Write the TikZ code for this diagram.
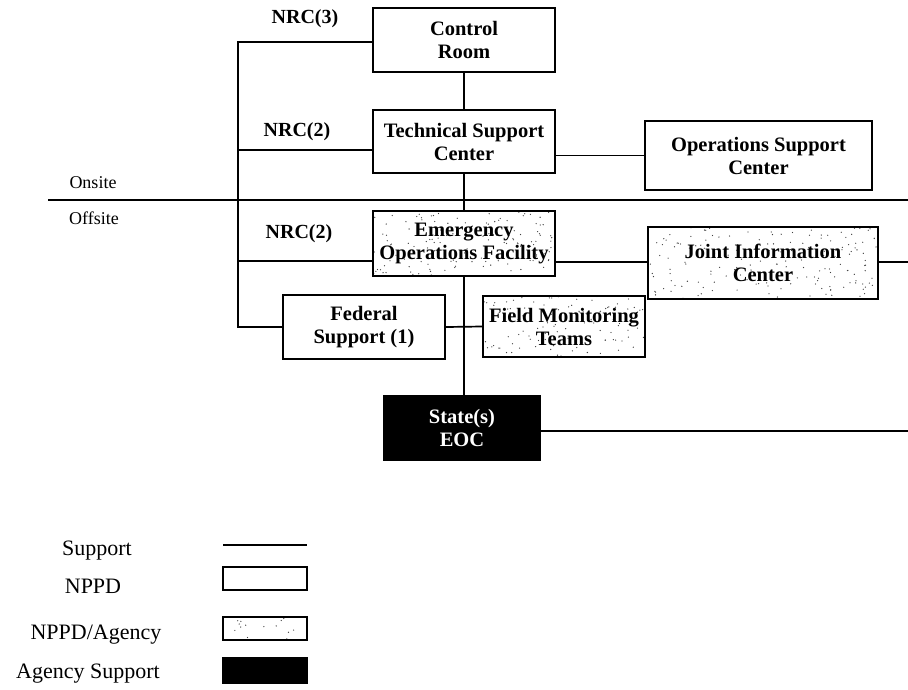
\documentclass[tikz,border=0pt]{standalone}
\usepackage{fontspec}
\setmainfont{Liberation Serif}
\usetikzlibrary{calc}
\tikzset{
  stipple/.style={path picture={
    \foreach \i in {1,...,#1}{
      \pgfmathsetmacro\rx{rnd}\pgfmathsetmacro\ry{rnd}
      \fill[black!75] let \p1=(path picture bounding box.south west), \p2=(path picture bounding box.north east) in ({\x1+\rx*(\x2-\x1)},{\y1+\ry*(\y2-\y1)}) circle[radius=0.65pt];
    }}},
  stipple/.default=120,
  box/.style={draw, line width=1.9pt, align=center, inner sep=0pt, fill=white,
    font=\fontsize{20.5}{23}\selectfont\bfseries},
  conn/.style={line width=1.7pt},
  lbl/.style={font=\fontsize{20}{23}\selectfont\bfseries, inner sep=0pt},
  zone/.style={font=\fontsize{18}{21}\selectfont, inner sep=0pt, anchor=base},
  leg/.style={font=\fontsize{22}{25}\selectfont, inner sep=0pt, anchor=base},
  swatch/.style={draw, line width=1.9pt, fill=white, minimum width=84pt, minimum height=23pt, inner sep=0pt}
}
\begin{document}
\begin{tikzpicture}[x=1pt,y=-1pt]
\pgfmathsetseed{4711}
\useasboundingbox (0,0) rectangle (908,689);

% boxes
\node[box, minimum width=182pt, minimum height=64pt] (cr) at (464,40) {Control\\Room};
\node[box, minimum width=182pt, minimum height=63pt] (tsc) at (464,141.5) {Technical Support\\Center};
\node[box, minimum width=227pt, minimum height=69pt] (osc) at (758.5,155.5) {Operations Support\\Center};
\node[box, stipple=140, minimum width=182pt, minimum height=65pt] (eof) at (464,243.5) {Emergency\\Operations Facility};
\node[box, stipple=170, minimum width=230pt, minimum height=72pt] (jic) at (763,263) {Joint Information\\Center};
\node[box, minimum width=162pt, minimum height=64pt] (fed) at (364,327) {Federal\\Support (1)};
\node[box, stipple=110, minimum width=162pt, minimum height=61pt] (fmt) at (564,326.5) {Field Monitoring\\Teams};
\node[box, fill=black, text=white, minimum width=157pt, minimum height=65pt] (state) at (462,428) {State(s)\\EOC};

% labels
\node[lbl] (nrc3) at (305,19) {NRC(3)};
\node[lbl] (nrc2a) at (297,132) {NRC(2)};
\node[lbl] (nrc2b) at (299,234) {NRC(2)};
\node[zone] (onsite) at (93,188) {Onsite};
\node[zone] (offsite) at (94,224) {Offsite};

% coordinates
\coordinate (on1) at (48,200);
\coordinate (on2) at (908,200);
\coordinate (bus1) at (238,42);
\coordinate (bus2) at (238,150);
\coordinate (bus3) at (238,261);
\coordinate (bus4) at (238,327);
\coordinate (rt1) at (908,262);
\coordinate (rt2) at (908,431);

% connectors
\draw[conn] (on1) -- (on2);
\draw[conn] (cr.south) -- (tsc.north);
\draw[conn] (tsc.south) -- (eof.north);
\draw[conn] (eof.south) -- (eof.south |- state.north);
\draw[conn] (osc.west -| tsc.east) -- (osc.west);
\draw[conn] (rt1 -| eof.east) -- (rt1 -| jic.west);
\draw[conn] (rt1 -| jic.east) -- (rt1);
\draw[conn] (rt2 -| state.east) -- (rt2);
\draw[conn] (fed.east) -- (fmt.west);
\draw[conn] (bus1 -| cr.west) -- (bus1) -- (bus4) -- (fed.west);
\draw[conn] (bus2) -- (bus2 -| tsc.west);
\draw[conn] (bus3) -- (bus3 -| eof.west);

% legend
\coordinate (s1a) at (223,545);
\coordinate (s1b) at (307,545);
\draw[conn] (s1a) -- (s1b);
\node[swatch] (sw2) at (265,578.5) {};
\node[swatch, stipple=14] (sw3) at (265,628.5) {};
\node[swatch, fill=black, minimum height=25pt] (sw4) at (265,670.5) {};
\node[leg] (l1) at (97,555) {Support};
\node[leg] (l2) at (93,593) {NPPD};
\node[leg] (l3) at (96,639) {NPPD/Agency};
\node[leg] (l4) at (88,678) {Agency Support};
\end{tikzpicture}
\end{document}
